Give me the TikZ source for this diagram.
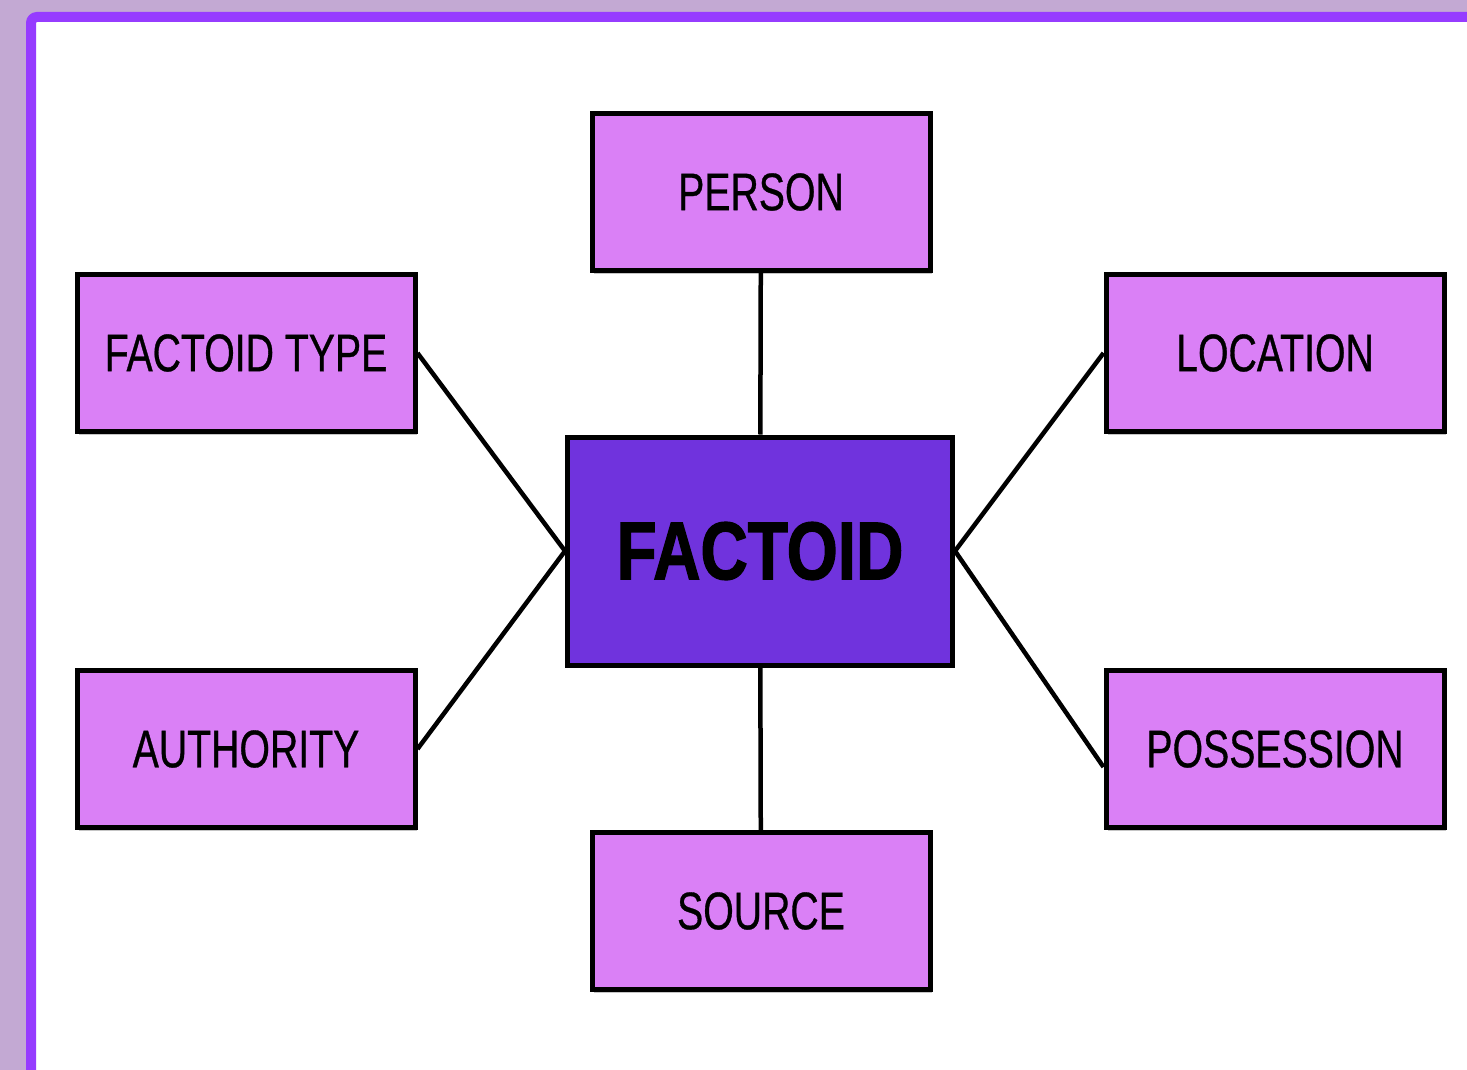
\documentclass[tikz,border=0pt]{standalone}
\usepackage{fontspec}
\usetikzlibrary{shapes,shadows,calc}
\newfontfamily\boxfont[FakeStretch=0.74,FakeBold=0.6]{Liberation Sans}
\newfontfamily\hubfont[FakeStretch=0.80,FakeBold=1.5]{Liberation Sans Bold}
\definecolor{pagebg}{HTML}{C3A9D3}
\definecolor{panelrim}{HTML}{963CFF}
\definecolor{boxfill}{HTML}{DA80F6}
\definecolor{hubfill}{HTML}{7033DD}

\begin{document}
\begin{tikzpicture} [x=1pt, y=-1pt]
    \tikzstyle{entity} = [rectangle, align = center, inner sep=0pt,
				% The border:
				draw=black, line width=5pt,
				% The filling:
				fill=boxfill,
				drop shadow={shadow xshift=2pt, shadow yshift=-3pt, opacity=0.45},
				minimum width=338pt, minimum height=157pt,
				font=\boxfont\fontsize{53}{60}\selectfont
					]
    \tikzstyle{hub} = [entity, fill=hubfill,
				minimum width=385pt, minimum height=228pt,
				font=\hubfont\fontsize{82}{90}\selectfont
					]
    \tikzstyle{link} = [draw=black, line width=4.5pt]

    % background and panel
    \fill[pagebg] (0,0) rectangle (1467,1070);
    \useasboundingbox (0,0) rectangle (1467,1070);
    \draw[panelrim, line width=10pt, fill=white, rounded corners=6pt] (31,17) rectangle (1490,1090);

    \node[hub] (factoid) at (760,551) {FACTOID};
    \node[entity] (person) at (761,192) {PERSON};
    \node[entity] (factoidtype) at (246,353) {FACTOID TYPE};
    \node[entity] (location) at (1275,353) {LOCATION};
    \node[entity] (authority) at (246,749) {AUTHORITY};
    \node[entity] (possession) at (1275,749) {POSSESSION};
    \node[entity] (source) at (761,911) {SOURCE};

    \draw[link] (person) -- (factoid);
    \draw[link] (factoid) -- (source);
    \draw[link] (factoidtype.east) -- (factoid.west);
    \draw[link] (authority.east) -- (factoid.west);
    \draw[link] (location.west) -- (factoid.east);
    \draw[link] (factoid.east) -- ([yshift=-18pt]possession.west);
\end{tikzpicture}
\end{document}
